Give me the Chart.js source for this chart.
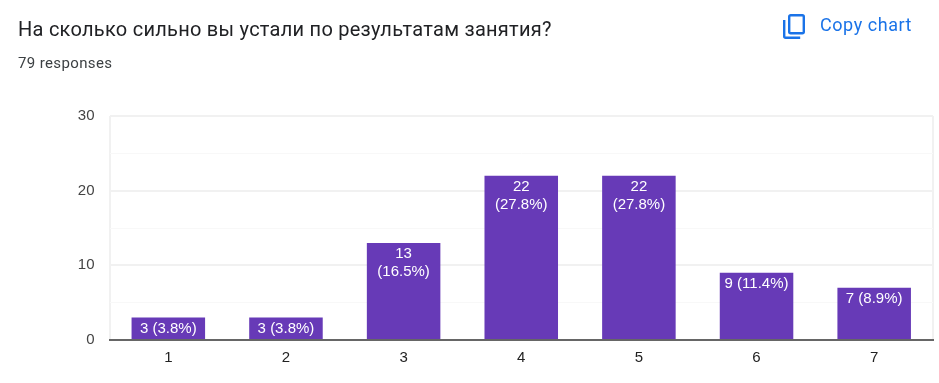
<!DOCTYPE html>
<html>
<head>
<meta charset="utf-8">
<title>Chart</title>
<script src="https://cdn.jsdelivr.net/npm/chart.js@4"></script>
<style>
  html, body { margin: 0; padding: 0; background: #fff; overflow: hidden; }
  #wrap { position: relative; width: 939px; height: 383px; }
  #chart { position: absolute; left: 0; top: 0; }
  .txt { position: absolute; white-space: nowrap; font-family: Roboto, sans-serif; }
  #title { left: 18px; top: 17px; font-size: 20px; line-height: 24px; color: #202124; letter-spacing: 0.26px; }
  #count { left: 18px; top: 54px; font-size: 15px; line-height: 18px; color: #3c4043; letter-spacing: 0.37px; }
  #copy { left: 820px; top: 15px; font-size: 18px; line-height: 20px; color: #1a73e8; letter-spacing: 0.55px; }
  #icon { position: absolute; left: 780px; top: 12px; }
</style>
</head>
<body>
<div id="wrap">
  <canvas id="chart" width="939" height="383"></canvas>
  <div class="txt" id="title">На сколько сильно вы устали по результатам занятия?</div>
  <div class="txt" id="count">79 responses</div>
  <svg id="icon" width="28" height="28" viewBox="0 0 28 28" fill="none" stroke="#1a73e8" stroke-width="2.4">
    <rect x="9.2" y="3.2" width="14.6" height="18" rx="1.5"></rect>
    <path d="M4.2 8v16.3c0 .8.7 1.5 1.5 1.5h14.5"></path>
  </svg>
  <div class="txt" id="copy">Copy chart</div>
</div>
<script>
const categories = ["1", "2", "3", "4", "5", "6", "7"];
const counts = [3, 3, 13, 22, 22, 9, 7];
const percents = ["3.8", "3.8", "16.5", "27.8", "27.8", "11.4", "8.9"];
const yMax = 30;

const FONT_FAMILY = '"Liberation Sans", Arial, sans-serif';

// Draws the "n (p%)" text inside each bar, wrapped to two lines if it does not fit
const barLabels = {
  id: "barLabels",
  afterDatasetsDraw(chart) {
    const ctx = chart.ctx;
    ctx.save();
    ctx.font = "15px " + FONT_FAMILY;
    ctx.fillStyle = "#ffffff";
    ctx.textAlign = "center";
    ctx.textBaseline = "alphabetic";
    chart.getDatasetMeta(0).data.forEach((bar, i) => {
      const oneLine = counts[i] + " (" + percents[i] + "%)";
      let lines = [oneLine];
      if (ctx.measureText(oneLine).width > 70) {
        lines = [String(counts[i]), "(" + percents[i] + "%)"];
      }
      lines.forEach((line, n) => {
        ctx.fillText(line, bar.x, bar.y + 15 + n * 18);
      });
    });
    ctx.restore();
  },
};

const chart = new Chart(document.getElementById("chart").getContext("2d"), {
  type: "bar",
  plugins: [barLabels],
  data: {
    labels: categories,
    datasets: [
      {
        data: counts,
        backgroundColor: "#673ab7",
        borderWidth: 0,
        barPercentage: 0.625,
        categoryPercentage: 1,
      },
    ],
  },
  options: {
    responsive: false,
    animation: false,
    layout: {
      padding: { top: 116, right: 6, bottom: 0, left: 0 },
    },
    scales: {
      x: {
        afterFit: (scale) => {
          scale.height = 43;
        },
        border: { color: "#666666", width: 2 },
        grid: {
          offset: true,
          drawTicks: false,
          // only the outer edges of the plot get a line
          color: (c) => (c.index === 0 || c.index === undefined ? "#f1f1f1" : "transparent"),
          lineWidth: 2,
        },
        ticks: {
          color: "#222222",
          padding: 9,
          font: { family: FONT_FAMILY, size: 15 },
        },
      },
      y: {
        min: 0,
        max: yMax,
        afterFit: (scale) => {
          scale.width = 109.5;
        },
        border: { display: false },
        grid: {
          drawTicks: false,
          color: (c) => (c.tick.value % 10 === 0 ? "#f1f1f1" : "#f8f8f8"),
          lineWidth: (c) => (c.tick.value % 10 === 0 ? 2 : 1),
        },
        ticks: {
          stepSize: 5,
          color: "#444444",
          padding: 15,
          font: { family: FONT_FAMILY, size: 15 },
          callback: (v) => (v % 10 === 0 ? v : ""),
        },
      },
    },
    plugins: {
      legend: { display: false },
      tooltip: { enabled: false },
    },
  },
});
</script>
</body>
</html>
